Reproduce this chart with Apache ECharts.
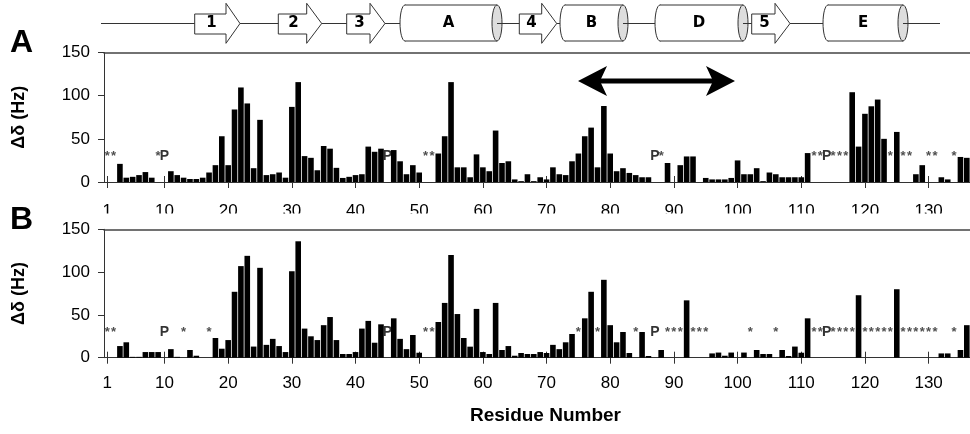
<!DOCTYPE html>
<html><head><meta charset="utf-8">
<script src="https://cdn.jsdelivr.net/npm/echarts@6/dist/echarts.min.js"></script>
<style>html,body{margin:0;padding:0;background:#fff}#c{width:970px;height:434px}</style>
</head><body><div id="c"></div>
<script>
// ---------- data ----------
const residues = Array.from({length: 136}, (_, i) => String(i + 1));
const tickLabels = [1, 10, 20, 30, 40, 50, 60, 70, 80, 90, 100, 110, 120, 130];

const panelA = [
  null, null, 21, 5, 6, 8, 11.5, 5, null, null,
  12.5, 8, 5, 3.5, 3.5, 5, 11, 19.5, 53, 19.5,
  84, 109.5, 91, 16, 72, 8, 9, 11, 5, 87,
  115.7, 30, 28, 13.6, 41.7, 38.6, 16.4, 4.7, 6, 8,
  9, 41, 35, 38.6, null, 37, 24, 9, 19.5, 11,
  null, null, 33, 53, 115.7, 17, 17, 5.5, 32, 17,
  12.5, 59.6, 22, 24, 3, 1, 9, 1, 5.5, 3,
  17, 9, 8, 24, 33, 53, 63, 17, 88, 33,
  12.5, 16, 10.5, 8, 5.5, 5.5, null, null, 22, null,
  19.5, 29.6, 29.6, null, 4.7, 3, 3, 3, 4.7, 25,
  9, 9, 16, 1, 11, 9, 5.5, 5.5, 5.5, 5.5,
  33.5, null, null, null, null, null, null, 104, 41, 79,
  87.7, 95.5, 50, null, 58, null, null, 9, 19.5, null,
  null, 5.5, 3, null, 29, 28
];
const panelB = [
  null, null, 13.6, 18, 1, 1, 6.6, 6.6, 6.6, null,
  10, 1, null, 9, 2.3, null, null, 23, 10.5, 20.6,
  77, 107, 119, 13, 105, 15, 22, 13.6, 6.6, 101,
  136, 34, 25, 20.6, 38, 47.5, 20.6, 4.3, 4.3, 6.6,
  34, 43, 17.5, 39, null, 46, 22, 10, 26.5, 5.8,
  null, null, 41.7, 64, 120, 51, 23, 12.9, 57, 6.6,
  4.3, 64, 9, 13.6, 2.3, 5.5, 4.3, 4.3, 6.6, 5.5,
  15, 10, 18, 27.7, null, 46, 77, null, 91, 38,
  18, 30, 5.5, null, 30, 2, null, 9, null, null,
  null, 67, null, null, null, 5, 6, 2.3, 6, null,
  6, null, 9, 4.3, 4.3, null, 9, 2, 13, 5.8,
  46, null, null, null, null, null, null, null, 73, null,
  null, null, null, null, 80, null, null, null, null, null,
  null, 5, 5, null, 9, 38
];
const starsA = [1, 2, 9, 51, 52, 88, 112, 113, 115, 116, 117, 124, 126, 127, 130, 131, 134];
const prolinesA = [10, 45, 87, 114];
const starsB = [1, 2, 13, 17, 51, 52, 75, 78, 84, 89, 90, 91, 93, 94, 95, 102, 106,
  112, 113, 115, 116, 117, 118, 120, 121, 122, 123, 124, 126, 127, 128, 129, 130, 131, 134];
const prolinesB = [10, 45, 87, 114];

// ---------- chart ----------
const FONT = "'Liberation Sans', Arial, sans-serif";
const MARK_LEVEL = 30;
const tickFn = (idx, val) => tickLabels.indexOf(Number(val)) >= 0;

function xAxes(g, labelMargin) {
  return [
    {type: 'category', gridIndex: g, data: residues, position: 'bottom', boundaryGap: true,
     axisLine: {onZero: false, lineStyle: {color: '#333', width: 1}},
     axisTick: {show: true, alignWithLabel: true, interval: tickFn, length: 6, lineStyle: {color: '#333'}},
     axisLabel: {interval: tickFn, margin: labelMargin, fontSize: 17, color: '#000', fontFamily: FONT}},
    {type: 'category', gridIndex: g, data: residues, position: 'bottom', boundaryGap: true,
     axisLine: {show: false, onZero: false},
     axisTick: {show: true, inside: true, alignWithLabel: true, interval: tickFn, length: 6, lineStyle: {color: '#333'}},
     axisLabel: {show: false, interval: tickFn}},
    {type: 'category', gridIndex: g, data: residues, position: 'top', boundaryGap: true,
     axisLine: {onZero: false, lineStyle: {color: '#444', width: 1.5}},
     axisTick: {show: false}, axisLabel: {show: false}}
  ];
}
function yAxis(g) {
  return {type: 'value', gridIndex: g, min: 0, max: 150, interval: 50,
    name: 'Δδ (Hz)', nameLocation: 'middle', nameRotate: 90, nameGap: 76,
    nameTextStyle: {fontSize: 18, fontWeight: 'bold', color: '#000', fontFamily: FONT},
    axisLine: {show: true, lineStyle: {color: '#333', width: 1}},
    axisTick: {show: true, length: 6, lineStyle: {color: '#333'}},
    axisLabel: {margin: 14, fontSize: 17, color: '#000', fontFamily: FONT},
    splitLine: {show: false}};
}
function markSeries(list, xi, yi, txt, style) {
  return {type: 'scatter', xAxisIndex: xi, yAxisIndex: yi, symbolSize: 1,
    itemStyle: {color: 'rgba(0,0,0,0)'}, silent: true,
    data: list.map(r => [String(r), MARK_LEVEL]),
    label: Object.assign({show: true, position: 'inside', formatter: txt, fontFamily: FONT}, style)};
}
const starStyle = {fontSize: 13, fontWeight: 'bold', color: '#222'};
const proStyle = {fontSize: 14, fontWeight: 'bold', color: '#000'};

// secondary structure diagram (decoration)
const SY = 23.5, ST = 14, SB = 34, HT = 3.3, HB = 43.3;
const strands = [[194.7, 226, 240, '1'], [278.3, 306.7, 321.7, '2'], [346.7, 370, 385, '3'],
                 [519.3, 541.7, 556.7, '4'], [751.7, 775, 790, '5']];
const helices = [[400, 497, 'A'], [560, 623, 'B'], [655, 743, 'D'], [823, 903, 'E']];
const gfx = [];
gfx.push({type: 'line', z: 50, shape: {x1: 101, y1: SY, x2: 940, y2: SY}, style: {stroke: '#333', lineWidth: 1}});
strands.forEach(([x0, x1, tip, t]) => {
  gfx.push({type: 'polygon', z: 51, shape: {points: [[x0, ST], [x1, ST], [x1, HT], [tip, SY], [x1, HB], [x1, SB], [x0, SB]]},
    style: {fill: '#fff', stroke: '#333', lineWidth: 1}});
  gfx.push({type: 'text', z: 52, x: (x0 + x1) / 2 + 1, y: SY, style: {text: t, font: "bold 15px 'DejaVu Sans'", fill: '#000', textAlign: 'center', textVerticalAlign: 'middle'}});
});
const RX = 5, CY = 23, RY = 18;
helices.forEach(([L, R, t]) => {
  gfx.push({type: 'ellipse', z: 51, shape: {cx: L + RX, cy: CY, rx: RX, ry: RY}, style: {fill: '#fff', stroke: '#333', lineWidth: 1}});
  gfx.push({type: 'rect', z: 52, shape: {x: L + RX, y: CY - RY, width: R - L - RX, height: 2 * RY}, style: {fill: '#fff'}});
  gfx.push({type: 'line', z: 53, shape: {x1: L + RX, y1: CY - RY, x2: R, y2: CY - RY}, style: {stroke: '#333', lineWidth: 1}});
  gfx.push({type: 'line', z: 53, shape: {x1: L + RX, y1: CY + RY, x2: R, y2: CY + RY}, style: {stroke: '#333', lineWidth: 1}});
  gfx.push({type: 'ellipse', z: 54, shape: {cx: R, cy: CY, rx: RX, ry: RY}, style: {fill: '#ddd', stroke: '#333', lineWidth: 1}});
  gfx.push({type: 'line', z: 55, shape: {x1: R, y1: SY, x2: R + RX, y2: SY}, style: {stroke: '#333', lineWidth: 1}});
  gfx.push({type: 'text', z: 56, x: (L + R) / 2, y: CY, style: {text: t, font: "bold 15px 'DejaVu Sans'", fill: '#000', textAlign: 'center', textVerticalAlign: 'middle'}});
});
// double-headed arrow in panel A
const AY = 81;
gfx.push({type: 'rect', z: 50, shape: {x: 598, y: AY - 2.5, width: 117, height: 5}, style: {fill: '#000'}});
gfx.push({type: 'polygon', z: 50, shape: {points: [[578, AY], [607, 66], [600, AY], [607, 96]]}, style: {fill: '#000'}});
gfx.push({type: 'polygon', z: 50, shape: {points: [[735, AY], [706, 66], [713, AY], [706, 96]]}, style: {fill: '#000'}});
// clip of panel-A tick labels (as in the reference)
gfx.push({type: 'rect', z: 100, shape: {x: 98, y: 213.5, width: 872, height: 14.5}, style: {fill: '#fff'}});
// panel letters and x title
gfx.push({type: 'text', z: 60, x: 10, y: 43.5, style: {text: 'A', font: "bold 32px 'Liberation Sans'", fill: '#000', textVerticalAlign: 'middle'}});
gfx.push({type: 'text', z: 60, x: 10, y: 220.3, style: {text: 'B', font: "bold 32px 'Liberation Sans'", fill: '#000', textVerticalAlign: 'middle'}});
gfx.push({type: 'text', z: 60, x: 545.5, y: 415.5, style: {text: 'Residue Number', font: "bold 19px 'Liberation Sans'", fill: '#000', textAlign: 'center', textVerticalAlign: 'middle'}});

const option = {
  animation: false,
  backgroundColor: '#fff',
  grid: [{left: 104, top: 52.5, width: 866, height: 129.5},
         {left: 104, top: 229.3, width: 866, height: 128.4}],
  xAxis: xAxes(0, 21).concat(xAxes(1, 17)),
  yAxis: [yAxis(0), yAxis(1)],
  series: [
    {type: 'bar', xAxisIndex: 0, yAxisIndex: 0, data: panelA, barCategoryGap: '12%', itemStyle: {color: '#000'}},
    {type: 'bar', xAxisIndex: 3, yAxisIndex: 1, data: panelB, barCategoryGap: '12%', itemStyle: {color: '#000'}},
    markSeries(starsA, 0, 0, '*', starStyle),
    markSeries(prolinesA, 0, 0, 'P', proStyle),
    markSeries(starsB, 3, 1, '*', starStyle),
    markSeries(prolinesB, 3, 1, 'P', proStyle)
  ],
  graphic: {elements: gfx}
};
const chart = echarts.init(document.getElementById('c'), null, {renderer: 'canvas'});
chart.setOption(option);
</script></body></html>
